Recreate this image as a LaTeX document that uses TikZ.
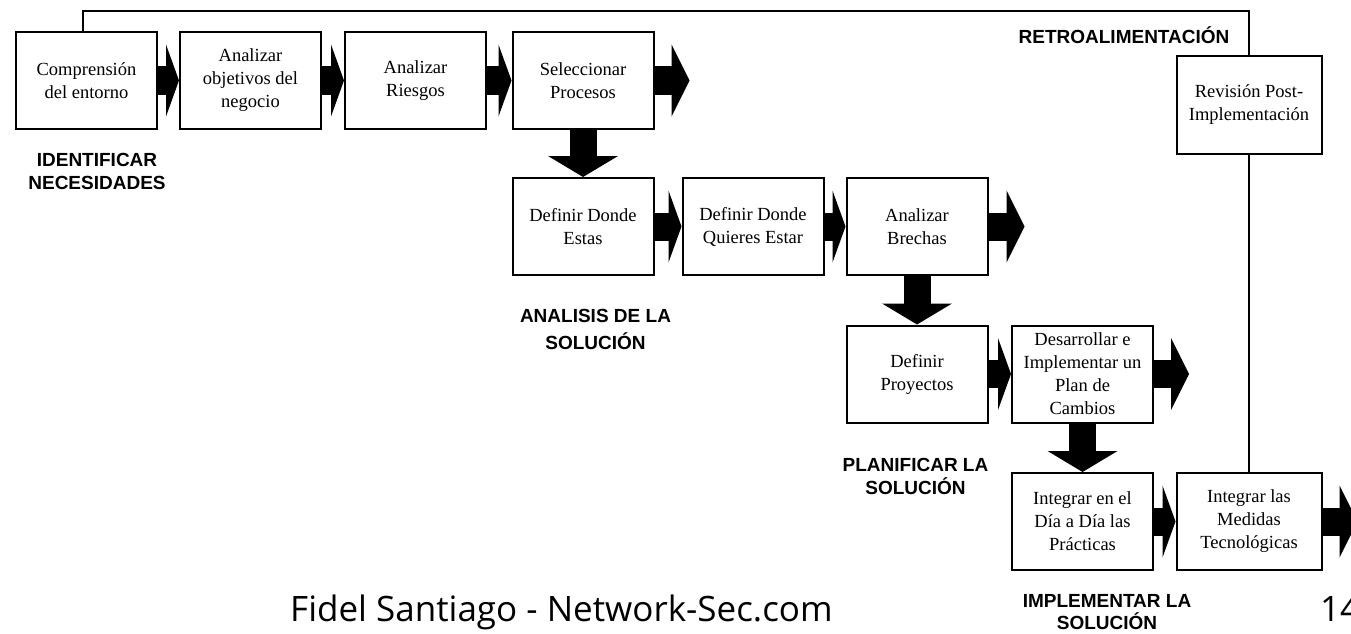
\documentclass[tikz,border=0pt]{standalone}
\usepackage{fontspec}
\setmainfont{Liberation Serif}
\newfontfamily\lblfont{Liberation Sans}
\newfontfamily\footfont{Open Sans}
\usetikzlibrary{arrows.meta}

\begin{document}
\begin{tikzpicture}[
  x=1pt, y=-1pt,
  every node/.style={font=\fontsize{18.5}{23}\selectfont},
  box/.style={draw, line width=2pt, minimum width=141pt, minimum height=97pt, align=center, inner sep=2pt},
  flow/.style={line width=28pt, -{Triangle[length=13pt, width=72pt, line width=0pt]}},
  flowout/.style={line width=28pt, -{Triangle[length=18pt, width=72pt, line width=0pt]}},
  flowdown/.style={line width=27pt, -{Triangle[length=21pt, width=70pt, line width=0pt]}},
  stage/.style={font=\lblfont\bfseries\fontsize{19}{23}\selectfont, align=center, inner sep=0pt},
  fb/.style={line width=1.3pt}
]
\path[use as bounding box, fill=white] (0,0) rectangle (1351,634);

% Identificar necesidades
\node[box] (comp) at (86.5, 80.5) {Comprensión\\del entorno};
\node[box] (obj) at (250.5, 80.5) {Analizar\\objetivos del\\negocio};
\node[box] (riesgos) at (415.5, 80.5) {Analizar\\Riesgos};
\node[box] (selec) at (583, 80.5) {Seleccionar\\Procesos};

% Analisis de la solucion
\node[box] (donde) at (583, 226.5) {Definir Donde\\Estas};
\node[box] (quiere) at (753, 226.5) {Definir Donde\\Quieres Estar};
\node[box] (brechas) at (917, 226.5) {Analizar\\Brechas};

% Planificar la solucion
\node[box] (proy) at (917, 374) {Definir\\Proyectos};
\node[box] (plan) at (1082.5, 374) {Desarrollar e\\Implementar un\\Plan de\\Cambios};

% Implementar la solucion
\node[box] (dia) at (1082.5, 521.5) {Integrar en el\\Día a Día las\\Prácticas};
\node[box, minimum width=145pt] (medidas) at (1249, 521.5) {Integrar las\\Medidas\\Tecnológicas};

% Retroalimentacion
\node[box, minimum width=145pt] (revision) at (1249, 105) {Revisión Post-\\Implementación};

% Free ends
\coordinate (selecout) at ([xshift=35pt]selec.east);
\coordinate (brechasout) at ([xshift=36pt]brechas.east);
\coordinate (planout) at ([xshift=35pt]plan.east);
\coordinate (medidasout) at ([xshift=35pt]medidas.east);

% Arrows
\draw[flow] (comp) -- (obj);
\draw[flow] (obj) -- (riesgos);
\draw[flow] (riesgos) -- (selec);
\draw[flowout] (selec) -- (selecout);
\draw[flowdown] (selec) -- (donde);
\draw[flow] (donde) -- (quiere);
\draw[flow] (quiere) -- (brechas);
\draw[flowout] (brechas) -- (brechasout);
\draw[flowdown] (brechas) -- (proy);
\draw[flow] (proy) -- (plan);
\draw[flowout] (plan) -- (planout);
\draw[flowdown] (plan) -- (dia);
\draw[flow] (dia) -- (medidas);
\draw[flowout] (medidas) -- (medidasout);

% Feedback loop
\draw[fb] ([xshift=-3.5pt]comp.north) -- ++(0,-20) -| (revision.north);
\draw[fb] (revision) -- (medidas);

% Labels
\node[stage] (lblretro) at (1124, 35) {RETROALIMENTACIÓN};
\node[stage] (lblident) at (97, 171.7) {IDENTIFICAR\\NECESIDADES};
\node[stage, font=\lblfont\bfseries\fontsize{19}{27}\selectfont] (lblanal) at (595.5, 329.7) {ANALISIS DE LA\\SOLUCIÓN};
\node[stage] (lblplan) at (915.5, 476.7) {PLANIFICAR LA\\SOLUCIÓN};
\node[stage, font=\lblfont\bfseries\fontsize{19}{22}\selectfont] (lblimpl) at (1107, 612.2) {IMPLEMENTAR LA\\SOLUCIÓN};

% Footer
\node[anchor=base west, inner sep=0pt, font=\footfont\fontsize{35}{40}\selectfont] (autor) at (290, 621) {Fidel Santiago - Network-Sec.com};
\node[anchor=base west, inner sep=0pt, font=\footfont\fontsize{35}{40}\selectfont] (pagina) at (1320, 621) {14};

\end{tikzpicture}
\end{document}
